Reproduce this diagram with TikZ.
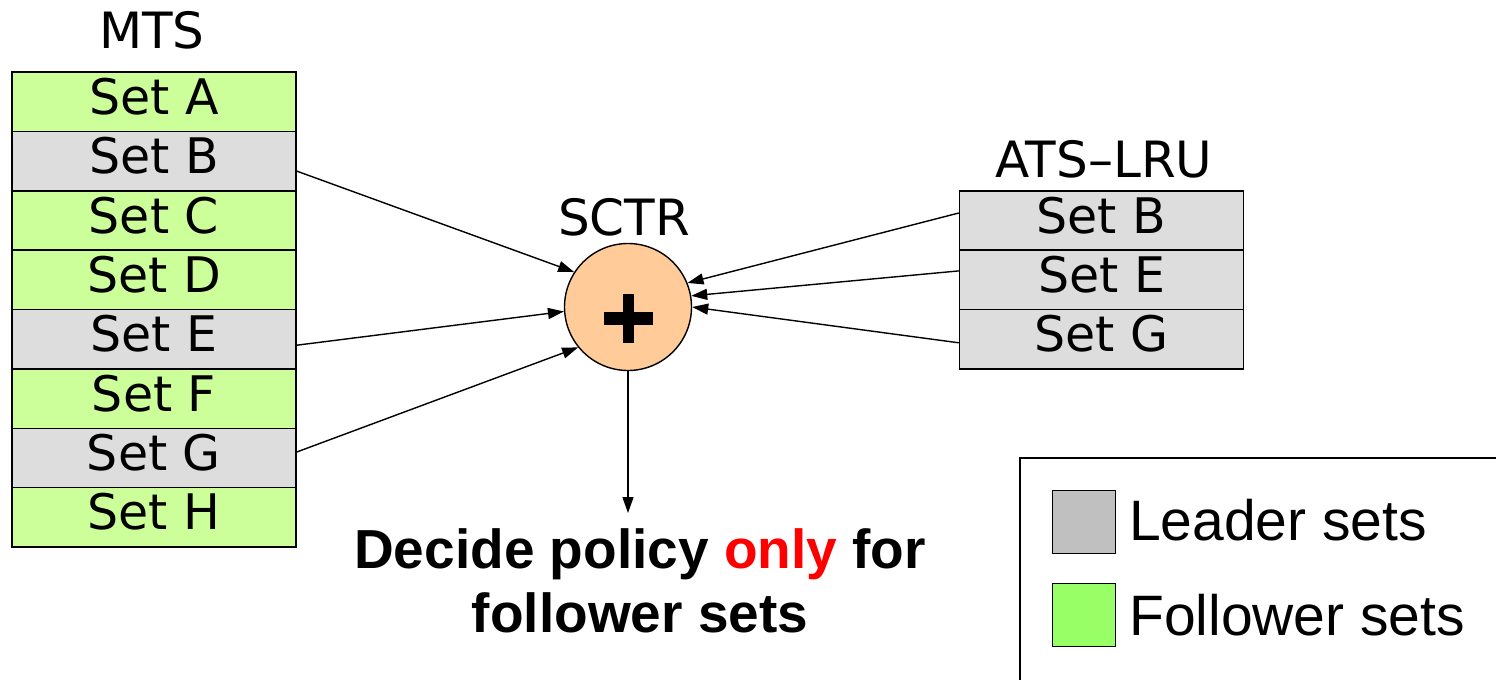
\documentclass[tikz,border=0pt]{standalone}
\usepackage{fontspec}
\setmainfont{DejaVu Sans}
\newfontfamily\arialfont{Liberation Sans}
\usetikzlibrary{arrows.meta}
\definecolor{followgreen}{HTML}{CCFF99}
\definecolor{leadergray}{HTML}{DDDDDD}
\definecolor{sumfill}{HTML}{FFCC99}
\definecolor{keygray}{HTML}{C0C0C0}
\definecolor{keygreen}{HTML}{99FF66}
\tikzset{
  setrow/.style={draw, line width=1.5pt, minimum width=284pt, minimum height=59.4pt,
    inner sep=0pt, text height=36pt, text depth=11pt, font=\fontsize{49}{58}\selectfont},
  leader/.style={setrow, fill=leadergray},
  follow/.style={setrow, fill=followgreen},
  title/.style={anchor=base, inner sep=0pt, font=\fontsize{50}{60}\selectfont},
  conn/.style={line width=1.4pt, -{Triangle[length=16pt,width=11pt]}},
  keybox/.style={draw, line width=1.5pt, minimum size=63pt, inner sep=0pt},
  keytext/.style={anchor=base west, inner sep=0pt, font=\arialfont\fontsize{57}{68}\selectfont},
}
\begin{document}
\begin{tikzpicture}[x=1pt,y=-1pt]
\useasboundingbox (0,0) rectangle (1496,680);

% main tag store
\node[title] (mtstitle) at (152,48) {MTS};
\node[follow] (m1) at (154,101.7) {Set A};
\node[leader] (m2) at (154,161.1) {Set B};
\node[follow] (m3) at (154,220.5) {Set C};
\node[follow] (m4) at (154,279.8) {Set D};
\node[leader] (m5) at (154,339.2) {Set E};
\node[follow] (m6) at (154,398.6) {Set F};
\node[leader] (m7) at (154,458.0) {Set G};
\node[follow] (m8) at (154,517.4) {Set H};

% auxiliary tag store
\node[title] (atstitle) at (1104,177) {ATS–LRU};
\node[leader] (a1) at (1101.5,220.5) {Set B};
\node[leader] (a2) at (1101.5,279.9) {Set E};
\node[leader] (a3) at (1101.5,339.3) {Set G};

% saturating counter
\node[title] (sctrtitle) at (624,235) {SCTR};
\node[draw, circle, fill=sumfill, line width=1.4pt, minimum size=127pt, inner sep=0pt] (sctr) at (628,307) {};
\fill (604,312) rectangle (653,325);
\fill (622.5,294) rectangle (634,343);

% connections into the counter
\draw[conn] ([yshift=-10pt]m2.east) -- (sctr.147);
\draw[conn] ([yshift=-6pt]m5.east) -- (sctr.184);
\draw[conn] ([yshift=6pt]m7.east) -- (sctr.219);
\draw[conn] ([yshift=7.5pt]a1.west) -- (sctr.22);
\draw[conn] ([yshift=9pt]a2.west) -- (sctr.10);
\draw[conn] ([yshift=-3.5pt]a3.west) -- (sctr.0);

% decision output (base anchor sits on the last line)
\coordinate (out) at (628,513);
\draw[conn] (sctr.south) -- (out);
\node[anchor=base, align=center, inner sep=0pt,
  font=\arialfont\bfseries\fontsize{55}{64}\selectfont] (decide) at (640,632)
  {Decide policy \textcolor{red}{only} for\\follower sets};

% key
\draw[line width=1.5pt] (1496,458) -- (1020,458) -- (1020,680);
\node[keybox, fill=keygray] (keyL) at (1084,522) {};
\node[keybox, fill=keygreen] (keyF) at (1084,615) {};
\node[keytext] (keyLtext) at (1129,540) {Leader sets};
\node[keytext] (keyFtext) at (1129,635) {Follower sets};
\end{tikzpicture}
\end{document}
